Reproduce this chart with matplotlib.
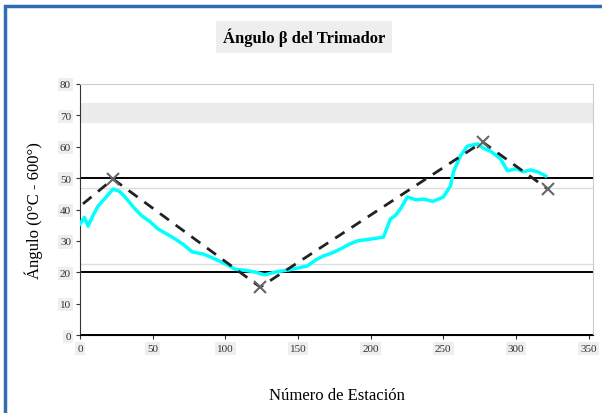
import numpy as np
import matplotlib.pyplot as plt
from matplotlib.patches import Rectangle

dist = [0, 3, 5.5, 9, 12.4, 17, 22.7, 27, 31, 37, 42.7, 48, 53.7, 60, 65.5, 71, 77.2,
        85, 93, 100, 106.8, 114, 120.6, 127, 134.4, 144, 153, 156.4, 162, 167.4, 173,
        179.1, 185, 190.8, 200, 208.8, 213.6, 217, 220.5, 225.3, 231, 236.3, 243, 250.1,
        254.9, 257, 261.8, 266.6, 273.5, 278, 282.5, 289.4, 294.2, 300, 305.2, 310,
        314.9, 320.4]
angle = [35.4, 37.5, 34.7, 38.2, 41.1, 43.5, 46.5, 45.8, 44.0, 40.6, 37.9, 36.2, 33.8,
         32.1, 30.6, 28.9, 26.5, 25.8, 24.2, 22.7, 21.0, 20.6, 20.1, 19.2, 20.1, 20.8,
         21.7, 22.0, 23.9, 25.2, 26.1, 27.4, 28.9, 30.0, 30.6, 31.2, 37.0, 38.1, 40.2,
         44.0, 43.1, 43.3, 42.6, 44.0, 47.5, 52.0, 57.1, 60.2, 60.9, 59.4, 58.6, 56.1,
         52.3, 53.0, 52.0, 52.6, 52.0, 50.7]

# fitted trend (black dashed)
fit_x = [2, 22.7, 124, 277, 322]
fit_y = [41.8, 49.7, 15.3, 61.5, 46.5]

x_ticks = [0, 50, 100, 150, 200, 250, 300, 350]
y_ticks = [0, 10, 20, 30, 40, 50, 60, 70, 80]
ref_lines = [0, 20, 50]
soft_lines = [22.5, 47]

plt.rcParams['font.family'] = ['Liberation Serif', 'DejaVu Serif']

fig = plt.figure(figsize=(6.02, 4.14), dpi=100)
ax = fig.add_axes([0.133, 0.188, 0.852, 0.607])

ax.axhspan(68, 74, color='#ececec', zorder=0)
for v in soft_lines:
    ax.axhline(v, color='#dddddd', lw=1, zorder=1)
for v in ref_lines:
    ax.axhline(v, color='black', lw=1.4, zorder=2)

ax.plot(dist, angle, color='cyan', lw=2.5, zorder=3)
ax.plot(fit_x, fit_y, color='#222222', lw=2.0, ls=(0, (4, 3)), zorder=4)
ax.plot(fit_x[1:], fit_y[1:], ls='none', marker='x', ms=8, mew=1.5,
        color='#666666', zorder=5)

ax.set_xlim(0, 353)
ax.set_ylim(0, 80)
ax.set_xticks(x_ticks)
ax.set_yticks(y_ticks)
ax.tick_params(labelsize=8, colors='#333333', length=3)
for lab in ax.get_xticklabels() + ax.get_yticklabels():
    lab.set_bbox(dict(facecolor='#eeeeee', edgecolor='none', pad=1.5))
for s in ['top', 'right']:
    ax.spines[s].set_color('#cccccc')
ax.spines['left'].set_color('#333333')
ax.spines['bottom'].set_color('black')

fig.text(0.505, 0.908, 'Ángulo β del Trimador', fontsize=12, fontweight='bold',
         ha='center', va='center',
         bbox=dict(facecolor='#eeeeee', edgecolor='none', pad=5))
ax.set_xlabel('Número de Estación', fontsize=12, labelpad=24)
ax.set_ylabel('Ángulo (0°C - 600°)', fontsize=12, labelpad=12)

fig.patches.append(Rectangle((0.008, -0.1), 1.2, 1.083, transform=fig.transFigure,
                             fill=False, edgecolor='#2f6db5', lw=2.5))

fig.savefig('out.png', dpi=100)
